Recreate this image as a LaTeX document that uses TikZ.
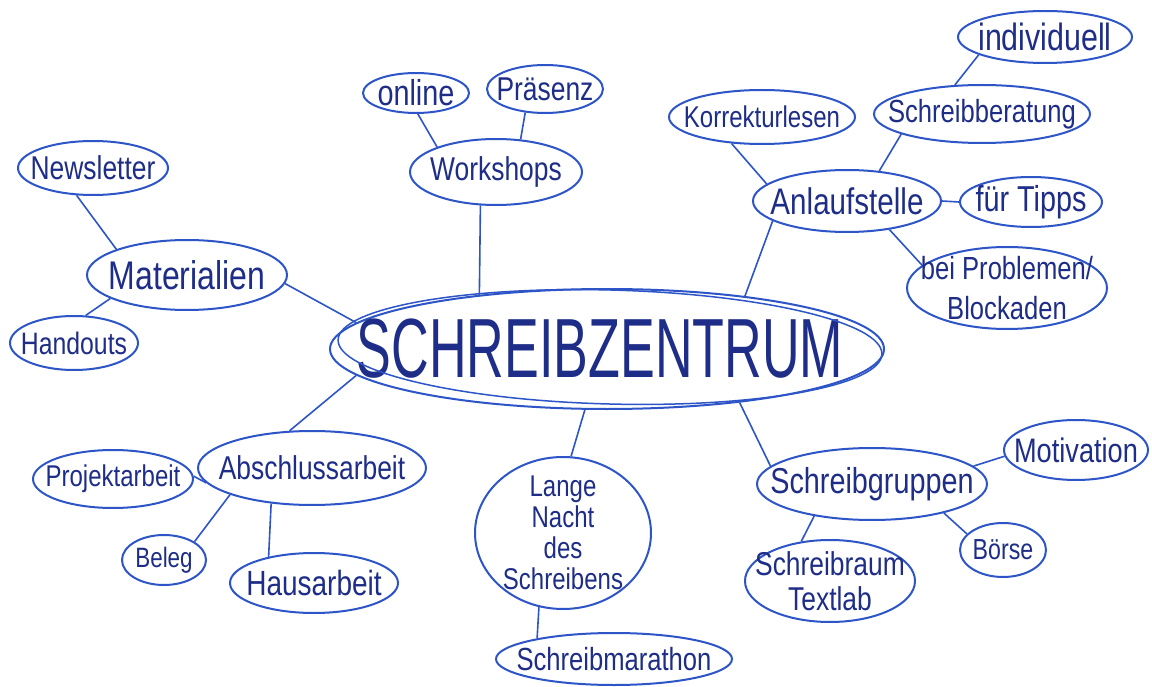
\documentclass[tikz,border=0pt]{standalone}
\usepackage{fontspec}
\setmainfont{Liberation Sans}
\newfontfamily\hwfont[FakeStretch=0.8]{Liberation Sans}
\newfontfamily\hwbig[FakeStretch=0.62]{Liberation Sans}
\usetikzlibrary{shapes.geometric}
\definecolor{inkline}{RGB}{45,85,200}
\definecolor{inktext}{RGB}{30,45,135}
\newcommand\myfs[2]{\fontsize{#1}{#2}\selectfont}
\begin{document}
\begin{tikzpicture}[x=1pt,y=-1pt,
  bubble/.style={ellipse, draw=inkline, line width=2pt, inner sep=0pt},
  lab/.style={text=inktext, inner sep=0pt, align=center},
  link/.style={draw=inkline, line width=1.6pt}]
\useasboundingbox (0,0) rectangle (1152,687);
\fill[white] (0,0) rectangle (1152,687);

% centre
\node[bubble, minimum width=554pt, minimum height=120pt,
  label={[lab,font=\hwbig\myfs{84}{90},xshift=-7pt]center:SCHREIBZENTRUM}] (zc) at (607,349) {};
\draw[inkline, line width=1.5pt] ([xshift=3pt,yshift=2pt]zc.center) ellipse [x radius=272pt, y radius=57pt, rotate=-1.5];

% Workshops
\node[bubble, minimum width=172pt, minimum height=66pt,
  label={[lab,font=\hwfont\myfs{33}{40}]center:Workshops}] (ws) at (496,172) {};
\node[bubble, minimum width=106pt, minimum height=40pt,
  label={[lab,font=\hwfont\myfs{36}{40}]center:online}] (on) at (416,93) {};
\node[bubble, minimum width=116pt, minimum height=48pt,
  label={[lab,font=\hwfont\myfs{33}{40}]center:Präsenz}] (pr) at (545,89) {};

% Materialien
\node[bubble, minimum width=200pt, minimum height=70pt,
  label={[lab,font=\hwfont\myfs{40}{44}]center:Materialien}] (ma) at (187,275) {};
\node[bubble, minimum width=150pt, minimum height=54pt,
  label={[lab,font=\hwfont\myfs{33}{40}]center:Newsletter}] (nl) at (93,168) {};
\node[bubble, minimum width=128pt, minimum height=54pt,
  label={[lab,font=\hwfont\myfs{31}{40}]center:Handouts}] (ho) at (74,343) {};

% Anlaufstelle
\node[bubble, minimum width=188pt, minimum height=62pt,
  label={[lab,font=\hwfont\myfs{37}{40}]center:Anlaufstelle}] (al) at (847,201) {};
\node[bubble, minimum width=186pt, minimum height=54pt,
  label={[lab,font=\hwfont\myfs{30}{40}]center:Korrekturlesen}] (kl) at (762,117) {};
\node[bubble, minimum width=216pt, minimum height=58pt,
  label={[lab,font=\hwfont\myfs{32}{40}]center:Schreibberatung}] (sb) at (982,114) {};
\node[bubble, minimum width=174pt, minimum height=52pt,
  label={[lab,font=\hwfont\myfs{38}{40}]center:individuell}] (ind) at (1045,37) {};
\node[bubble, minimum width=142pt, minimum height=50pt,
  label={[lab,font=\hwfont\myfs{36}{40}]center:für Tipps}] (ft) at (1031,202) {};
\node[bubble, minimum width=200pt, minimum height=82pt,
  label={[lab,font=\hwfont\myfs{32}{40}]center:bei Problemen/\\Blockaden}] (bp) at (1007,288) {};

% Abschlussarbeit
\node[bubble, minimum width=228pt, minimum height=74pt,
  label={[lab,font=\hwfont\myfs{33}{40}]center:Abschlussarbeit}] (aa) at (312,468) {};
\node[bubble, minimum width=160pt, minimum height=58pt,
  label={[lab,font=\hwfont\myfs{30}{40}]center:Projektarbeit}] (pa) at (113,479) {};
\node[bubble, minimum width=84pt, minimum height=50pt,
  label={[lab,font=\hwfont\myfs{28}{40}]center:Beleg}] (be) at (164,560) {};
\node[bubble, minimum width=168pt, minimum height=60pt,
  label={[lab,font=\hwfont\myfs{35}{40}]center:Hausarbeit}] (ha) at (314,583) {};

% Lange Nacht
\node[bubble, minimum width=176pt, minimum height=152pt,
  label={[lab,font=\hwfont\myfs{30}{31}]center:Lange\\Nacht\\des\\Schreibens}] (ln) at (563,533) {};
\node[bubble, minimum width=236pt, minimum height=52pt,
  label={[lab,font=\hwfont\myfs{32}{40}]center:Schreibmarathon}] (sm) at (614,659) {};

% Schreibgruppen
\node[bubble, minimum width=230pt, minimum height=72pt,
  label={[lab,font=\hwfont\myfs{36}{40}]center:Schreibgruppen}] (sg) at (872,484) {};
\node[bubble, minimum width=144pt, minimum height=60pt,
  label={[lab,font=\hwfont\myfs{34}{40}]center:Motivation}] (mo) at (1076,450) {};
\node[bubble, minimum width=86pt, minimum height=54pt,
  label={[lab,font=\hwfont\myfs{29}{40}]center:Börse}] (bo) at (1003,550) {};
\node[bubble, minimum width=170pt, minimum height=82pt,
  label={[lab,font=\hwfont\myfs{33}{35}]center:Schreibraum\\Textlab}] (sr) at (830,581) {};

% connectors
\draw[link] (on.275) -- (ws.157);
\draw[link] (pr.230) -- (ws.53);
\draw[link] (ws.245) -- (zc.157);
\draw[link] (nl.239) -- (ma.160);
\draw[link] (ma.197) -- (ho.67);
\draw[link] (ma.355) -- (zc.174);
\draw[link] (zc.21) -- (al.195);
\draw[link] (kl.221) -- (al.168);
\draw[link] (sb.194) -- (al.43);
\draw[link] (ind.195) -- (sb.133);
\draw[link] (al.east) -- (ft.west);
\draw[link] (al.326) -- (bp.165);
\draw[link] (zc.186) -- (aa.121);
\draw[link] (aa.188) -- (pa.2);
\draw[link] (aa.198) -- (be.31);
\draw[link] (aa.221) -- (ha.150);
\draw[link] (zc.250) -- (ln.84);
\draw[link] (ln.252) -- (sm.165);
\draw[link] (zc.338) -- (sg.170);
\draw[link] (sg.10) -- (mo.185);
\draw[link] (sg.338) -- (bo.156);
\draw[link] (sg.209) -- (sr.126);
\end{tikzpicture}
\end{document}
